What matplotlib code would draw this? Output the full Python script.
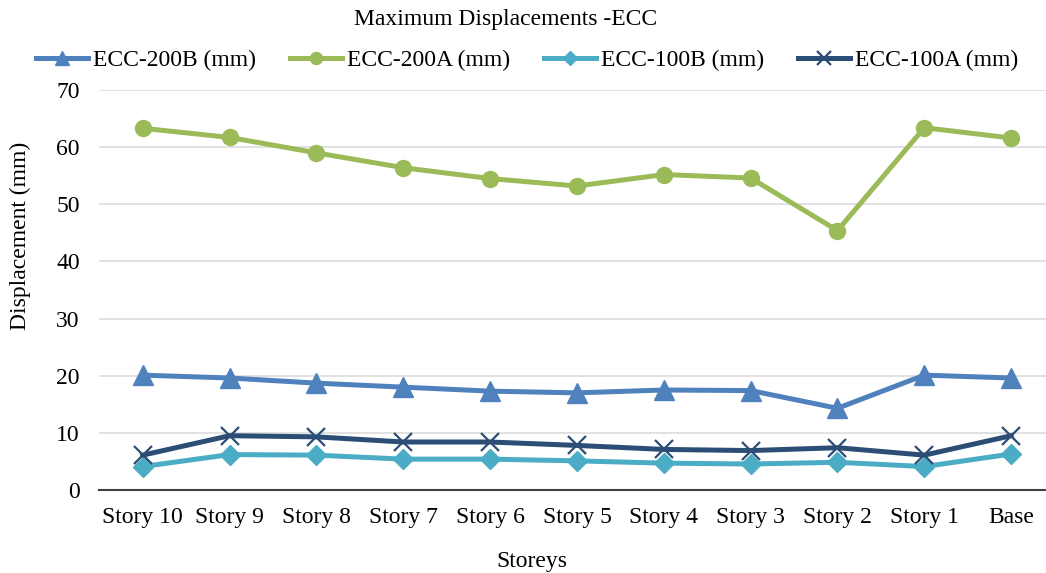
import matplotlib
matplotlib.use("Agg")
import matplotlib.pyplot as plt

plt.rcParams["font.family"] = ["Liberation Serif", "DejaVu Serif"]

storeys = ["Story 10", "Story 9", "Story 8", "Story 7", "Story 6", "Story 5",
           "Story 4", "Story 3", "Story 2", "Story 1", "Base"]

ecc_200b = [20.1, 19.6, 18.7, 18.0, 17.3, 17.0, 17.5, 17.4, 14.3, 20.1, 19.6]
ecc_200a = [63.3, 61.7, 59.0, 56.4, 54.5, 53.2, 55.2, 54.6, 45.4, 63.4, 61.6]
ecc_100b = [4.1, 6.2, 6.1, 5.4, 5.4, 5.1, 4.7, 4.55, 4.85, 4.1, 6.3]
ecc_100a = [6.1, 9.5, 9.3, 8.4, 8.4, 7.8, 7.1, 6.9, 7.4, 6.1, 9.5]

series = [
    ("ECC-200B (mm)", ecc_200b, "#4F81BD", "^", 14, {}),
    ("ECC-200A (mm)", ecc_200a, "#9BBB59", "o", 11.5, {}),
    ("ECC-100B (mm)", ecc_100b, "#4BACC6", "D", 10, {}),
    ("ECC-100A (mm)", ecc_100a, "#2C4D75", "x", 13, {"markeredgewidth": 1.6}),
]

fig = plt.figure(figsize=(10.46, 5.73), dpi=100)
# axes extend slightly past the right edge of the canvas
ax = fig.add_axes([99.3 / 1046, 83 / 573, (1054.6 - 99.3) / 1046, 400 / 573])

x = list(range(len(storeys)))
for label, vals, color, marker, ms, extra in series:
    ax.plot(x, vals, color=color, lw=3.6, marker=marker, markersize=ms,
            markerfacecolor=color, markeredgecolor=color, label=label,
            solid_joinstyle="round", **extra)

ax.set_xlim(-0.5, len(storeys) - 0.5)
ax.set_ylim(0, 70)
ax.set_yticks(range(0, 71, 10))
ax.set_xticks(x)
ax.set_xticklabels(storeys)
ax.tick_params(axis="both", length=0, labelsize=17, colors="#000000")
ax.tick_params(axis="y", pad=14)
ax.tick_params(axis="x", pad=12)
ax.grid(axis="y", color="#D9D9D9", lw=1.1)
ax.set_axisbelow(True)
for s in ["top", "right", "left"]:
    ax.spines[s].set_visible(False)
ax.spines["bottom"].set_color("#404040")
ax.spines["bottom"].set_linewidth(1.5)

fig.text(20 / 1046, 1 - 236 / 573, "Displacement (mm)", fontsize=17, rotation=90,
         ha="center", va="center")
fig.text(532 / 1046, 1 - 561 / 573, "Storeys", fontsize=17, ha="center", va="center")
fig.text(506 / 1046, 1 - 20 / 573, "Maximum Displacements -ECC", fontsize=17,
         ha="center", va="center")

handles, labels = ax.get_legend_handles_labels()
fig.legend(handles, labels, ncol=4, loc="center", bbox_to_anchor=(527 / 1046, 1 - 60 / 573),
           frameon=False, fontsize=17, handlelength=2.2, handletextpad=0.2,
           columnspacing=1.45, markerscale=0.75, borderaxespad=0, borderpad=0)

fig.savefig("out.png", dpi=100)
